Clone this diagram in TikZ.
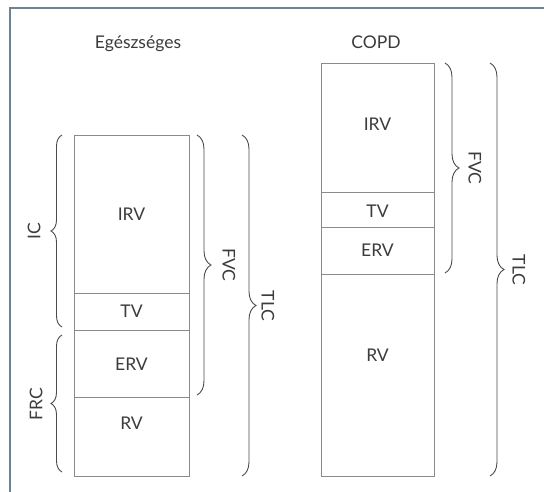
\documentclass[tikz,border=0pt]{standalone}
\usepackage{fontspec}
\setmainfont{Lato}
\usetikzlibrary{decorations.pathreplacing}
\definecolor{frame}{HTML}{6E8296}
\definecolor{boxline}{HTML}{8A8A8A}
\definecolor{txt}{HTML}{3C3C3C}
\definecolor{brc}{HTML}{4A4A4A}
\begin{document}
\begin{tikzpicture}[x=1pt,y=-1pt,
  vol/.style={draw=boxline,line width=1pt},
  lbl/.style={text=txt,font=\fontsize{17.5}{20}\selectfont,inner sep=0pt},
  brlabel/.style={text=txt,font=\fontsize{17.5}{20}\selectfont,inner sep=0pt},
  bracel/.style={draw=brc,line width=0.9pt,decorate,decoration={brace,amplitude=11pt}},
  bracer/.style={draw=brc,line width=0.9pt,decorate,decoration={brace,amplitude=14pt}}]
\useasboundingbox (0,0) rectangle (544,491);
\fill[white] (0,0) rectangle (544,491);
% frame
\draw[frame,line width=1.2pt] (10,500) -- (10,8) -- (560,8);
% titles
\node[lbl] (t1) at (138,44) {Egészséges};
\node[lbl] (t2) at (376,42) {COPD};
% healthy column
\draw[vol] (74,135) rectangle (189,476);
\draw[vol] (74,293) -- (189,293);
\draw[vol] (74,330) -- (189,330);
\draw[vol] (74,397) -- (189,397);
\node[lbl] (irv1) at (131.5,214) {IRV};
\node[lbl] (tv1) at (131.5,311) {TV};
\node[lbl] (erv1) at (131.5,364) {ERV};
\node[lbl] (rv1) at (131.5,423) {RV};
% copd column
\draw[vol] (321,63) rectangle (434,476);
\draw[vol] (321,192) -- (434,192);
\draw[vol] (321,227) -- (434,227);
\draw[vol] (321,274) -- (434,274);
\node[lbl] (irv2) at (377.5,124) {IRV};
\node[lbl] (tv2) at (377.5,211) {TV};
\node[lbl] (erv2) at (377.5,250) {ERV};
\node[lbl] (rv2) at (377.5,355) {RV};
% brace end points
\coordinate (ic1) at (62,327);
\coordinate (ic2) at (62,135);
\coordinate (frc1) at (62,472);
\coordinate (frc2) at (62,335);
\coordinate (fvc1a) at (197,135);
\coordinate (fvc1b) at (197,395);
\coordinate (tlc1a) at (242,135);
\coordinate (tlc1b) at (242,476);
\coordinate (fvc2a) at (445,63);
\coordinate (fvc2b) at (445,273);
\coordinate (tlc2a) at (490,63);
\coordinate (tlc2b) at (490,476);
\draw[bracel] (ic1) -- (ic2);
\draw[bracel] (frc1) -- (frc2);
\draw[bracer] (fvc1a) -- (fvc1b);
\draw[bracer] (tlc1a) -- (tlc1b);
\draw[bracer] (fvc2a) -- (fvc2b);
\draw[bracer] (tlc2a) -- (tlc2b);
% brace labels
\node[brlabel,rotate=90] (ic) at (34,231) {IC};
\node[brlabel,rotate=90] (frc) at (36,404) {FRC};
\node[brlabel,rotate=-90] (fvc1) at (229,265) {FVC};
\node[brlabel,rotate=-90] (tlc1) at (268,306) {TLC};
\node[brlabel,rotate=-90] (fvc2) at (475,168) {FVC};
\node[brlabel,rotate=-90] (tlc2) at (519,270) {TLC};
\end{tikzpicture}
\end{document}
